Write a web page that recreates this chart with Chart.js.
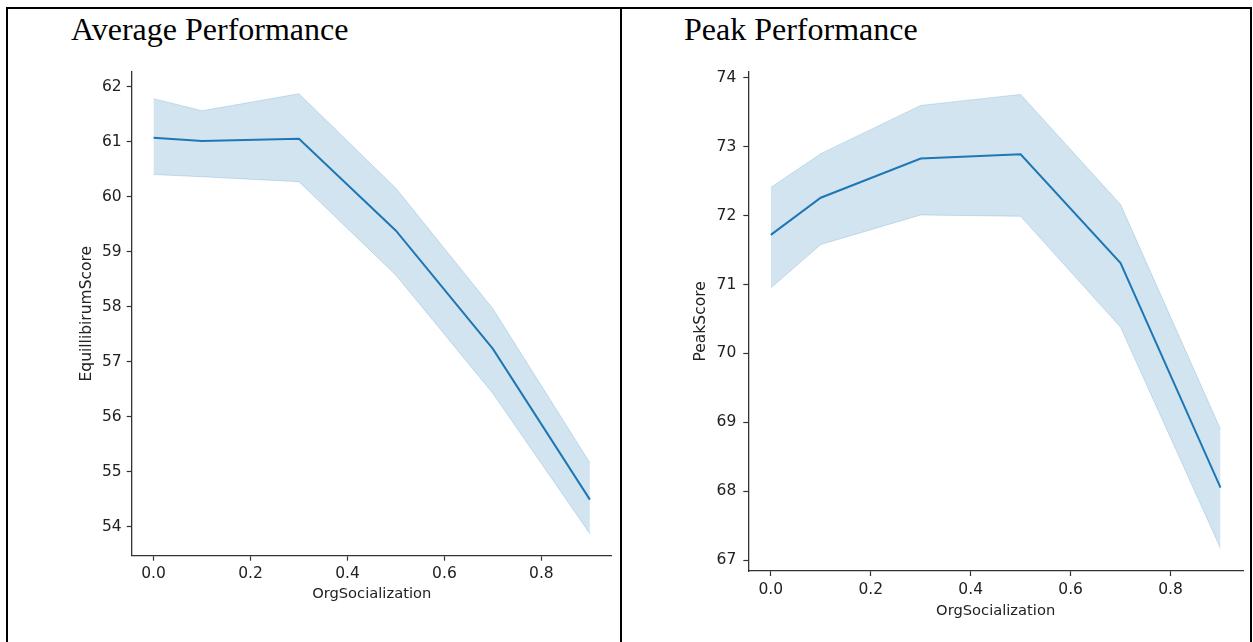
<!DOCTYPE html>
<html>
<head>
<meta charset="utf-8">
<script src="https://cdn.jsdelivr.net/npm/chart.js@4.4.1/dist/chart.umd.min.js"></script>
<style>
  html, body { margin: 0; padding: 0; background: #fff; }
  #page { position: relative; width: 1253px; height: 642px; overflow: hidden; background: #fff; }
  .rule { position: absolute; background: #000; }
  .panel-title {
    position: absolute; top: 14px;
    font-family: "Liberation Serif", "Times New Roman", serif;
    font-size: 32px; line-height: 31px; color: #000; white-space: nowrap;
  }
  canvas { position: absolute; top: 0; }
</style>
</head>
<body>
<div id="page">
  <!-- table frame -->
  <div class="rule" style="left:6px; top:7px; width:1246px; height:2px;"></div>
  <div class="rule" style="left:6px; top:7px; width:2px; height:635px;"></div>
  <div class="rule" style="left:620px; top:7px; width:2px; height:635px;"></div>
  <div class="rule" style="left:1250px; top:7px; width:2px; height:635px;"></div>

  <div class="panel-title" style="left:71px;">Average Performance</div>
  <div class="panel-title" style="left:684px;">Peak Performance</div>

  <canvas id="avgChart" width="620" height="642" style="left:0;"></canvas>
  <canvas id="peakChart" width="631" height="642" style="left:622px;"></canvas>
</div>

<script>
// OrgSocialization levels
const orgSocial = [0.0, 0.1, 0.3, 0.5, 0.7, 0.9];

// EquillibirumScore: mean and confidence band
const avgMean  = [61.07, 61.01, 61.05, 59.38, 57.23, 54.49];
const avgUpper = [61.78, 61.56, 61.87, 60.15, 57.96, 55.16];
const avgLower = [60.40, 60.36, 60.27, 58.57, 56.42, 53.87];

// PeakScore: mean and confidence band
const peakMean  = [71.72, 72.26, 72.83, 72.89, 71.31, 68.05];
const peakUpper = [72.41, 72.90, 73.60, 73.76, 72.16, 68.90];
const peakLower = [70.95, 71.58, 72.01, 71.99, 70.38, 67.17];

const xTicks = [0.0, 0.2, 0.4, 0.6, 0.8];

const LINE = '#1f77b4';
const BAND = 'rgba(31,119,180,0.2)';
const INK = '#222';
const SPINE = '#333';

Chart.defaults.font.family = '"DejaVu Sans", Verdana, sans-serif';
Chart.defaults.color = INK;

function toPoints(ys) {
  return ys.map((y, i) => ({ x: orgSocial[i], y: y }));
}

// matplotlib-style 5% margins around the data
function padRange(lo, hi) {
  const m = (hi - lo) * 0.05;
  return [lo - m, hi + m];
}

function renderChart(canvasId, mean, upper, lower, yLabel, geo) {
  const ctx = document.getElementById(canvasId);
  const [xMin, xMax] = padRange(Math.min(...orgSocial), Math.max(...orgSocial));
  const [yMin, yMax] = padRange(Math.min(...lower), Math.max(...upper));

  return new Chart(ctx, {
    type: 'line',
    data: {
      datasets: [
        { data: toPoints(upper), fill: '+1', backgroundColor: BAND,
          borderColor: BAND, borderWidth: 1, pointRadius: 0 },
        { data: toPoints(lower), fill: false, backgroundColor: BAND,
          borderColor: BAND, borderWidth: 1, pointRadius: 0 },
        { data: toPoints(mean), fill: false, borderColor: LINE,
          borderWidth: 2, pointRadius: 0, tension: 0 }
      ]
    },
    options: {
      responsive: false,
      animation: false,
      devicePixelRatio: 1,
      layout: { padding: geo.padding },
      plugins: { legend: { display: false }, tooltip: { enabled: false } },
      scales: {
        x: {
          type: 'linear',
          min: xMin, max: xMax,
          afterFit: s => { s.height = geo.xHeight; },
          afterBuildTicks: s => { s.ticks = xTicks.map(v => ({ value: v })); },
          ticks: { font: { size: 15.5 }, color: INK, padding: geo.xPad,
                   callback: v => v.toFixed(1) },
          grid: { drawOnChartArea: false, drawTicks: true, tickLength: 5,
                  tickColor: SPINE, tickWidth: 1.2 },
          border: { display: true, color: SPINE, width: 1.3 },
          title: { display: true, text: 'OrgSocialization', font: { size: 14.7 },
                   color: INK, padding: 0 }
        },
        y: {
          type: 'linear',
          min: yMin, max: yMax,
          afterFit: s => { s.width = geo.yWidth; },
          ticks: { stepSize: 1, includeBounds: false, font: { size: 15.5 },
                   color: INK, padding: geo.yPad, callback: v => v.toFixed(0) },
          grid: { drawOnChartArea: false, drawTicks: true, tickLength: 5,
                  tickColor: SPINE, tickWidth: 1.2 },
          border: { display: true, color: SPINE, width: 1.3 },
          title: { display: true, text: yLabel, font: { size: 15.5 },
                   color: INK, padding: 0 }
        }
      }
    }
  });
}

renderChart('avgChart', avgMean, avgUpper, avgLower, 'EquillibirumScore', {
  padding: { left: 78, right: 8.3, top: 71.7, bottom: 38.6 },
  yWidth: 53.7, yPad: 5, xHeight: 47.7, xPad: 3.5
});

renderChart('peakChart', peakMean, peakUpper, peakLower, 'PeakScore', {
  padding: { left: 70, right: 10, top: 71.7, bottom: 22.1 },
  yWidth: 56.3, yPad: 7, xHeight: 48.9, xPad: 5
});
</script>
</body>
</html>
